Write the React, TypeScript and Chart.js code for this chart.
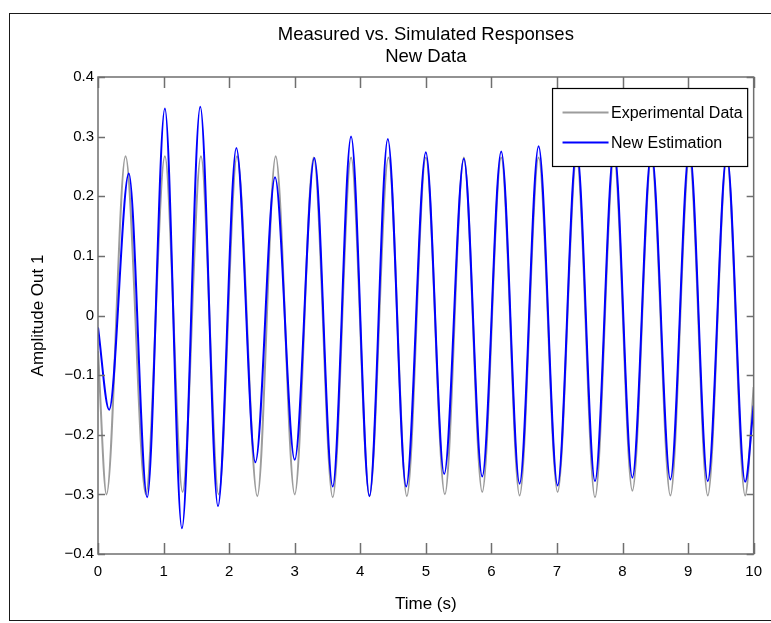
import React, { useEffect, useRef } from "react";
import { Chart, registerables } from "chart.js";

Chart.register(...registerables);

const titleLines = ["Measured vs. Simulated Responses", "New Data"];
const xAxisTitle = "Time (s)";
const yAxisTitle = "Amplitude Out 1";
const seriesLabels = ["Experimental Data", "New Estimation"];

const xTickValues = [0, 1, 2, 3, 4, 5, 6, 7, 8, 9, 10];
const yTickValues = [-0.4, -0.3, -0.2, -0.1, 0, 0.1, 0.2, 0.3, 0.4];

// Experimental data: start, alternating troughs / peaks, end
const expTimes = [0, 0.13, 0.42, 0.73, 1.02, 1.29, 1.57, 1.84, 2.12, 2.43, 2.71, 3.0, 3.29, 3.58, 3.86, 4.14, 4.43, 4.71, 5.0, 5.29, 5.58, 5.86, 6.15, 6.43, 6.72, 7.01, 7.3, 7.58, 7.87, 8.15, 8.44, 8.73, 9.02, 9.3, 9.59, 9.87, 10];
const expValues = [-0.06, -0.3, 0.267, -0.3, 0.267, -0.296, 0.267, -0.3, 0.267, -0.303, 0.267, -0.3, 0.265, -0.305, 0.265, -0.303, 0.265, -0.303, 0.265, -0.3, 0.265, -0.296, 0.265, -0.302, 0.265, -0.296, 0.265, -0.305, 0.265, -0.294, 0.265, -0.302, 0.265, -0.302, 0.265, -0.302, -0.12];

// New estimation: start, alternating troughs / peaks, end
const estTimes = [0, 0.17, 0.47, 0.75, 1.02, 1.28, 1.56, 1.83, 2.11, 2.4, 2.7, 3.0, 3.3, 3.58, 3.86, 4.14, 4.42, 4.7, 5.0, 5.28, 5.58, 5.86, 6.15, 6.43, 6.72, 7.01, 7.3, 7.58, 7.87, 8.15, 8.44, 8.73, 9.02, 9.3, 9.59, 9.87, 10];
const estValues = [-0.02, -0.158, 0.238, -0.305, 0.347, -0.357, 0.35, -0.32, 0.281, -0.246, 0.232, -0.242, 0.264, -0.287, 0.3, -0.303, 0.296, -0.287, 0.274, -0.266, 0.263, -0.27, 0.275, -0.282, 0.284, -0.285, 0.28, -0.278, 0.28, -0.272, 0.275, -0.275, 0.28, -0.278, 0.27, -0.279, -0.151];

const FONT = "'Liberation Sans', Arial, Helvetica, sans-serif";
const AXIS_COLOR = "#6f6f6f";
const EXP_COLOR = "#9c9c9c";
const EST_COLOR = "#0000ff";

const fmtY = (v: number) =>
  Math.abs(v) < 1e-9 ? "0" : v < 0 ? "\u2212" + Math.abs(v).toFixed(1) : v.toFixed(1);

const boxTicksPlugin = {
  id: "boxTicks",
  afterDatasetsDraw(chart: any) {
    const { ctx, chartArea: a, scales } = chart;
    ctx.save();
    ctx.strokeStyle = AXIS_COLOR;
    ctx.lineWidth = 1.5;
    ctx.beginPath();
    const xLen = 11;
    const yLen = 7;
    scales.x.ticks.forEach((t: any) => {
      const px = Math.round(scales.x.getPixelForValue(t.value)) + 0.5;
      ctx.moveTo(px, a.bottom);
      ctx.lineTo(px, a.bottom - xLen);
      ctx.moveTo(px, a.top);
      ctx.lineTo(px, a.top + xLen);
    });
    scales.y.ticks.forEach((t: any) => {
      const py = Math.round(scales.y.getPixelForValue(t.value)) + 0.5;
      ctx.moveTo(a.left, py);
      ctx.lineTo(a.left + yLen, py);
      ctx.moveTo(a.right, py);
      ctx.lineTo(a.right - yLen, py);
    });
    ctx.stroke();
    ctx.strokeRect(a.left, a.top, a.right - a.left, a.bottom - a.top);
    ctx.restore();
  },
};

const boxLegendPlugin = {
  id: "boxLegend",
  afterDraw(chart: any) {
    const { ctx, chartArea: a } = chart;
    const ds = chart.data.datasets;
    ctx.save();
    ctx.font = `16px ${FONT}`;
    const textW = Math.max(...ds.map((d: any) => ctx.measureText(d.label).width));
    const lineLen = 46;
    const w = 10 + lineLen + 2.5 + textW + 5;
    const h = 78;
    const right = a.right - 6;
    const left = right - w;
    const top = a.top + 11.5;
    ctx.fillStyle = "#ffffff";
    ctx.fillRect(left, top, w, h);
    ctx.strokeStyle = "#000000";
    ctx.lineWidth = 1.2;
    ctx.strokeRect(left, top, w, h);
    ds.forEach((d: any, i: number) => {
      const cy = top + 24 + i * 30;
      ctx.strokeStyle = d.borderColor;
      ctx.lineWidth = 2;
      ctx.beginPath();
      ctx.moveTo(left + 10, cy);
      ctx.lineTo(left + 10 + lineLen, cy);
      ctx.stroke();
      ctx.fillStyle = "#000000";
      ctx.textBaseline = "middle";
      ctx.textAlign = "left";
      ctx.fillText(d.label, left + 10 + lineLen + 2.5, cy + 1);
    });
    ctx.restore();
  },
};

export default function App() {
  const ref = useRef<HTMLCanvasElement | null>(null);

  useEffect(() => {
    if (!ref.current) return;
    const chart = new Chart(ref.current, {
      type: "line",
      data: {
        datasets: [
          {
            label: seriesLabels[0],
            data: expTimes.map((t, i) => ({ x: t, y: expValues[i] })),
            borderColor: EXP_COLOR,
            borderWidth: 2,
            pointRadius: 0,
            cubicInterpolationMode: "monotone",
            fill: false,
            order: 2,
          },
          {
            label: seriesLabels[1],
            data: estTimes.map((t, i) => ({ x: t, y: estValues[i] })),
            borderColor: EST_COLOR,
            borderWidth: 2,
            pointRadius: 0,
            cubicInterpolationMode: "monotone",
            fill: false,
            order: 1,
          },
        ],
      },
      options: {
        animation: false,
        responsive: false,
        maintainAspectRatio: false,
        layout: { padding: { left: 0, right: 14, top: 0, bottom: 0 } },
        plugins: {
          legend: { display: false },
          tooltip: { enabled: false },
          title: {
            display: true,
            text: titleLines,
            color: "#000",
            fullSize: false,
            font: { family: FONT, size: 18.5, weight: "normal", lineHeight: 22 / 18.5 },
            padding: { top: 24, bottom: 9 },
          },
        },
        scales: {
          x: {
            type: "linear",
            min: 0,
            max: 10,
            afterBuildTicks: (s: any) => {
              s.ticks = xTickValues.map((v) => ({ value: v }));
            },
            afterFit: (s: any) => {
              s.height = 69;
            },
            grid: { display: false, drawTicks: false },
            border: { display: false },
            ticks: {
              color: "#000",
              font: { family: FONT, size: 15 },
              padding: 9,
              maxRotation: 0,
              autoSkip: false,
              callback: (v: any) => String(v),
            },
            title: {
              display: true,
              text: xAxisTitle,
              color: "#000",
              font: { family: FONT, size: 17 },
              padding: { top: 0, bottom: 8.8 },
            },
          },
          y: {
            type: "linear",
            min: -0.4,
            max: 0.4,
            afterBuildTicks: (s: any) => {
              s.ticks = yTickValues.map((v) => ({ value: v }));
            },
            afterFit: (s: any) => {
              s.width = 98;
            },
            grid: { display: false, drawTicks: false },
            border: { display: false },
            ticks: {
              color: "#000",
              font: { family: FONT, size: 15 },
              padding: 4,
              autoSkip: false,
              callback: (v: any) => fmtY(Number(v)),
            },
            title: {
              display: true,
              text: yAxisTitle,
              color: "#000",
              font: { family: FONT, size: 17 },
              padding: { top: 27.8, bottom: 0 },
            },
          },
        },
      },
      plugins: [boxTicksPlugin, boxLegendPlugin],
    } as any);
    return () => chart.destroy();
  }, []);

  return (
    <div
      style={{
        position: "absolute",
        left: 0,
        top: 0,
        width: 771,
        height: 623,
        overflow: "hidden",
        background: "#ffffff",
      }}
    >
      <div
        style={{
          position: "absolute",
          left: 9,
          top: 13,
          width: 800,
          height: 608,
          border: "1px solid #1a1a1a",
          borderRight: "none",
          boxSizing: "border-box",
        }}
      />
      <canvas
        ref={ref}
        width={771}
        height={623}
        style={{ position: "absolute", left: 0, top: 0, width: 771, height: 623 }}
      />
    </div>
  );
}
